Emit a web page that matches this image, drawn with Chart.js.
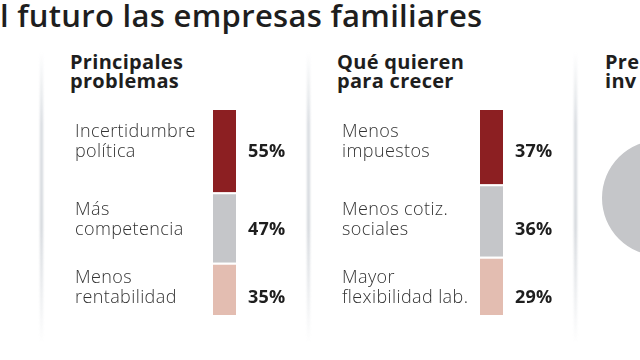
<!DOCTYPE html>
<html lang="es">
<head>
<meta charset="utf-8">
<script src="https://cdn.jsdelivr.net/npm/chart.js@4/dist/chart.umd.min.js"></script>
<style>
    html, body { margin: 0; padding: 0; background: #fff; }
    body { width: 640px; height: 360px; position: relative; overflow: hidden; font-family: 'Open Sans', sans-serif; }
    .title { position: absolute; left: 0; top: -6px; font-size: 31px; font-weight: 600; color: #1e1e1e; white-space: nowrap; letter-spacing: 0.3px; }
    .panel-title { position: absolute; top: 52px; font-size: 20px; line-height: 19px; font-weight: 700; color: #1e1e1e; white-space: nowrap; letter-spacing: 0.3px; }
    .sep { position: absolute; top: 52px; width: 3px; height: 292px; filter: blur(0.8px);
           background: linear-gradient(to bottom, rgba(215,219,224,0), #d6dadf 25%, #d2d6db 60%, rgba(215,219,224,0)); }
    .panel { position: absolute; top: 100px; width: 267px; height: 230px; }
    .pie { position: absolute; left: 599px; top: 137px; width: 122px; height: 122px; }
</style>
</head>
<body>
<div class="title">l futuro las empresas familiares</div>

<div class="sep" style="left:40px"></div>
<div class="sep" style="left:307px"></div>
<div class="sep" style="left:574px"></div>

<div class="panel-title" style="left:70px">Principales<br>problemas</div>
<div class="panel-title" style="left:337px">Qué quieren<br>para crecer</div>
<div class="panel-title" style="left:605px">Pre<br>inv</div>

<div class="panel" style="left:41px"><canvas id="problemsChart"></canvas></div>
<div class="panel" style="left:308px"><canvas id="growthChart"></canvas></div>
<div class="pie"><canvas id="investChart"></canvas></div>

<script>
// Data, top segment first (as read in the picture)
const problemLabels = [['Incertidumbre', 'política'], ['Más', 'competencia'], ['Menos', 'rentabilidad']];
const problemValues = [55, 47, 35];

const growthLabels = [['Menos', 'impuestos'], ['Menos cotiz.', 'sociales'], ['Mayor', 'flexibilidad lab.']];
const growthValues = [37, 36, 29];

// only the grey slice of the third panel is visible in the crop
const investLabels = ['(recortado)'];
const investValues = [100];

const segmentColors = ['#8c1f22', '#c5c6c9', '#e3bdb1'];

// baselines of the second text line of each row, relative to the canvas top
const rowBaselines = [57, 135, 203];

// Side labels: category text left of the bar, percentage right of it
const sideLabels = {
    id: 'sideLabels',
    afterDatasetsDraw(chart) {
        const ctx = chart.ctx;
        const area = chart.chartArea;
        const cats = chart.options.plugins.sideLabels.categories;
        const vals = chart.options.plugins.sideLabels.values;
        ctx.save();
        ctx.textBaseline = 'alphabetic';
        ctx.textAlign = 'left';
        cats.forEach((lines, i) => {
            const y = rowBaselines[i];
            ctx.fillStyle = '#333333';
            ctx.font = '300 18px "Open Sans", sans-serif';
            ctx.letterSpacing = '0.4px';
            ctx.fillText(lines[0], area.left - 138, y - 20);
            ctx.fillText(lines[1], area.left - 138, y);
            ctx.fillStyle = '#1e1e1e';
            ctx.font = '700 18px "Open Sans", sans-serif';
            ctx.letterSpacing = '0.2px';
            ctx.fillText(vals[i] + '%', area.right + 12, y);
        });
        ctx.restore();
    }
};

function stackedPanel(canvasId, categories, values) {
    const total = values.reduce((a, b) => a + b, 0);
    // Chart.js stacks from the bottom, so reverse the top-first order
    const datasets = values.map((v, i) => ({
        label: categories[i].join(' '),
        data: [v],
        backgroundColor: segmentColors[i],
        borderColor: '#ffffff',
        borderWidth: i === 0 ? 0 : { top: 2, bottom: 0, left: 0, right: 0 },
        borderSkipped: false,
        inflateAmount: 0,
        barPercentage: 1,
        categoryPercentage: 1
    })).reverse();

    new Chart(document.getElementById(canvasId), {
        type: 'bar',
        data: { labels: [''], datasets: datasets },
        options: {
            responsive: true,
            maintainAspectRatio: false,
            animation: false,
            layout: { padding: { left: 172, right: 72, top: 10, bottom: 15 } },
            scales: {
                x: { stacked: true, display: false },
                y: { stacked: true, display: false, min: 0, max: total }
            },
            plugins: {
                legend: { display: false },
                tooltip: { enabled: false },
                sideLabels: { categories: categories, values: values }
            }
        },
        plugins: [sideLabels]
    });
}

stackedPanel('problemsChart', problemLabels, problemValues);
stackedPanel('growthChart', growthLabels, growthValues);

new Chart(document.getElementById('investChart'), {
    type: 'pie',
    data: {
        labels: investLabels,
        datasets: [{ data: investValues, backgroundColor: ['#c5c6c9'], borderWidth: 0 }]
    },
    options: {
        responsive: true,
        maintainAspectRatio: false,
        animation: false,
        layout: { padding: 3 },
        plugins: { legend: { display: false }, tooltip: { enabled: false } }
    }
});
</script>
</body>
</html>
